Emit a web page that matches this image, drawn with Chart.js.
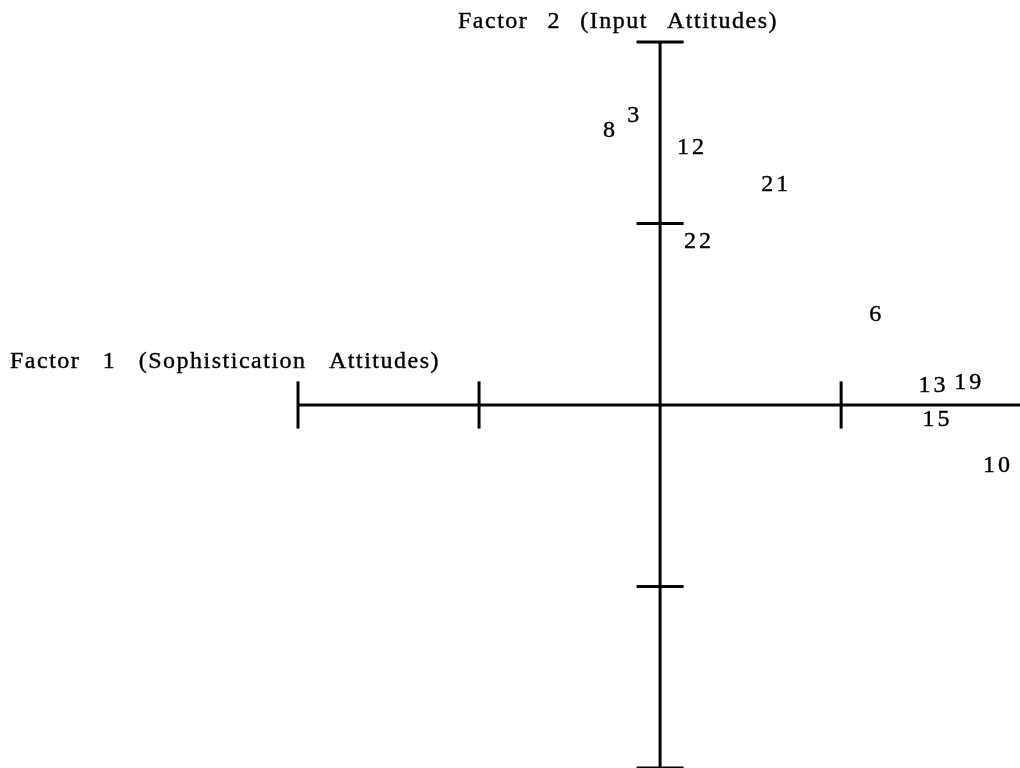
<!DOCTYPE html>
<html>
<head>
<meta charset="utf-8">
<script src="https://cdn.jsdelivr.net/npm/chart.js@4"></script>
<style>
  html, body { margin: 0; padding: 0; background: #ffffff; }
  #wrap { width: 1020px; height: 768px; }
</style>
</head>
<body>
<div id="wrap"><canvas id="c" width="1020" height="768"></canvas></div>
<script>
// ---- data ----
const items   = ['8', '3', '12', '21', '22', '6', '13', '19', '15', '10'];
const factor1 = [-0.141, -0.074, 0.084, 0.317, 0.103, 0.594, 0.751, 0.850, 0.762, 0.929];
const factor2 = [0.761, 0.802, 0.714, 0.612, 0.455, 0.255, 0.058, 0.066, -0.035, -0.163];

const xTickValues = [-1, -0.5, 0.5];
const yTickValues = [1, 0.5, -0.5, -1];
const axisTitle1 = 'Factor 1 (Sophistication Attitudes)';
const axisTitle2 = 'Factor 2 (Input Attitudes)';

// ---- build datasets ----
const tickHalf = 0.065;
const lineStyle = { showLine: true, borderColor: '#000', borderWidth: 3, pointRadius: 0, fill: false, borderCapStyle: 'butt' };

const datasets = [];
datasets.push(Object.assign({ label: 'x-axis', data: [{x: -1, y: 0}, {x: 1, y: 0}] }, lineStyle));
datasets.push(Object.assign({ label: 'y-axis', data: [{x: 0, y: -1}, {x: 0, y: 1}] }, lineStyle));
xTickValues.forEach(t => datasets.push(Object.assign({ label: 'xt' + t, data: [{x: t, y: -tickHalf}, {x: t, y: tickHalf}] }, lineStyle)));
yTickValues.forEach(t => datasets.push(Object.assign({ label: 'yt' + t, data: [{x: -tickHalf, y: t}, {x: tickHalf, y: t}] }, lineStyle)));
datasets.push({
  label: 'items',
  data: items.map((n, i) => ({ x: factor1[i], y: factor2[i] })),
  pointRadius: 0, showLine: false
});

const FONT = '"Liberation Serif", "Times New Roman", serif';

const labelPlugin = {
  id: 'labelPlugin',
  afterDatasetsDraw(chart) {
    const ctx = chart.ctx;
    const idx = chart.data.datasets.findIndex(d => d.label === 'items');
    const meta = chart.getDatasetMeta(idx);
    ctx.save();
    ctx.fillStyle = '#000';
    ctx.strokeStyle = '#000';
    ctx.lineWidth = 0.4;
    const fs = 24;
    ctx.font = fs + 'px ' + FONT;
    ctx.textAlign = 'center';
    ctx.textBaseline = 'alphabetic';
    if ('letterSpacing' in ctx) ctx.letterSpacing = '3px';
    meta.data.forEach((p, i) => {
      ctx.fillText(items[i], p.x + 1.5, p.y + fs * 0.34);
      ctx.strokeText(items[i], p.x + 1.5, p.y + fs * 0.34);
    });
    ctx.restore();

    // axis titles
    const drawFit = (text, left, baseline, width) => {
      ctx.save();
      ctx.fillStyle = '#000';
      ctx.strokeStyle = '#000';
      ctx.lineWidth = 0.4;
      ctx.font = '24px ' + FONT;
      ctx.textAlign = 'left';
      ctx.textBaseline = 'alphabetic';
      if ('letterSpacing' in ctx) ctx.letterSpacing = '1.5px';
      const gaps = (text.match(/ /g) || []).length;
      if ('wordSpacing' in ctx) {
        ctx.wordSpacing = '0px';
        const w0 = ctx.measureText(text).width;
        ctx.wordSpacing = Math.max(0, (width - w0) / gaps) + 'px';
      }
      ctx.fillText(text, left, baseline);
      ctx.strokeText(text, left, baseline);
      ctx.restore();
    };
    drawFit(axisTitle2, 458, 28, 320);
    drawFit(axisTitle1, 10, 368, 430);
  }
};

new Chart(document.getElementById('c'), {
  type: 'scatter',
  data: { datasets },
  options: {
    responsive: false,
    animation: false,
    layout: { padding: 0 },
    scales: {
      x: { type: 'linear', min: -1.823, max: 0.994, display: false },
      y: { type: 'linear', min: -1.0, max: 1.1157, display: false }
    },
    plugins: { legend: { display: false }, tooltip: { enabled: false } },
    elements: { line: { tension: 0 } }
  },
  plugins: [labelPlugin]
});
</script>
</body>
</html>
